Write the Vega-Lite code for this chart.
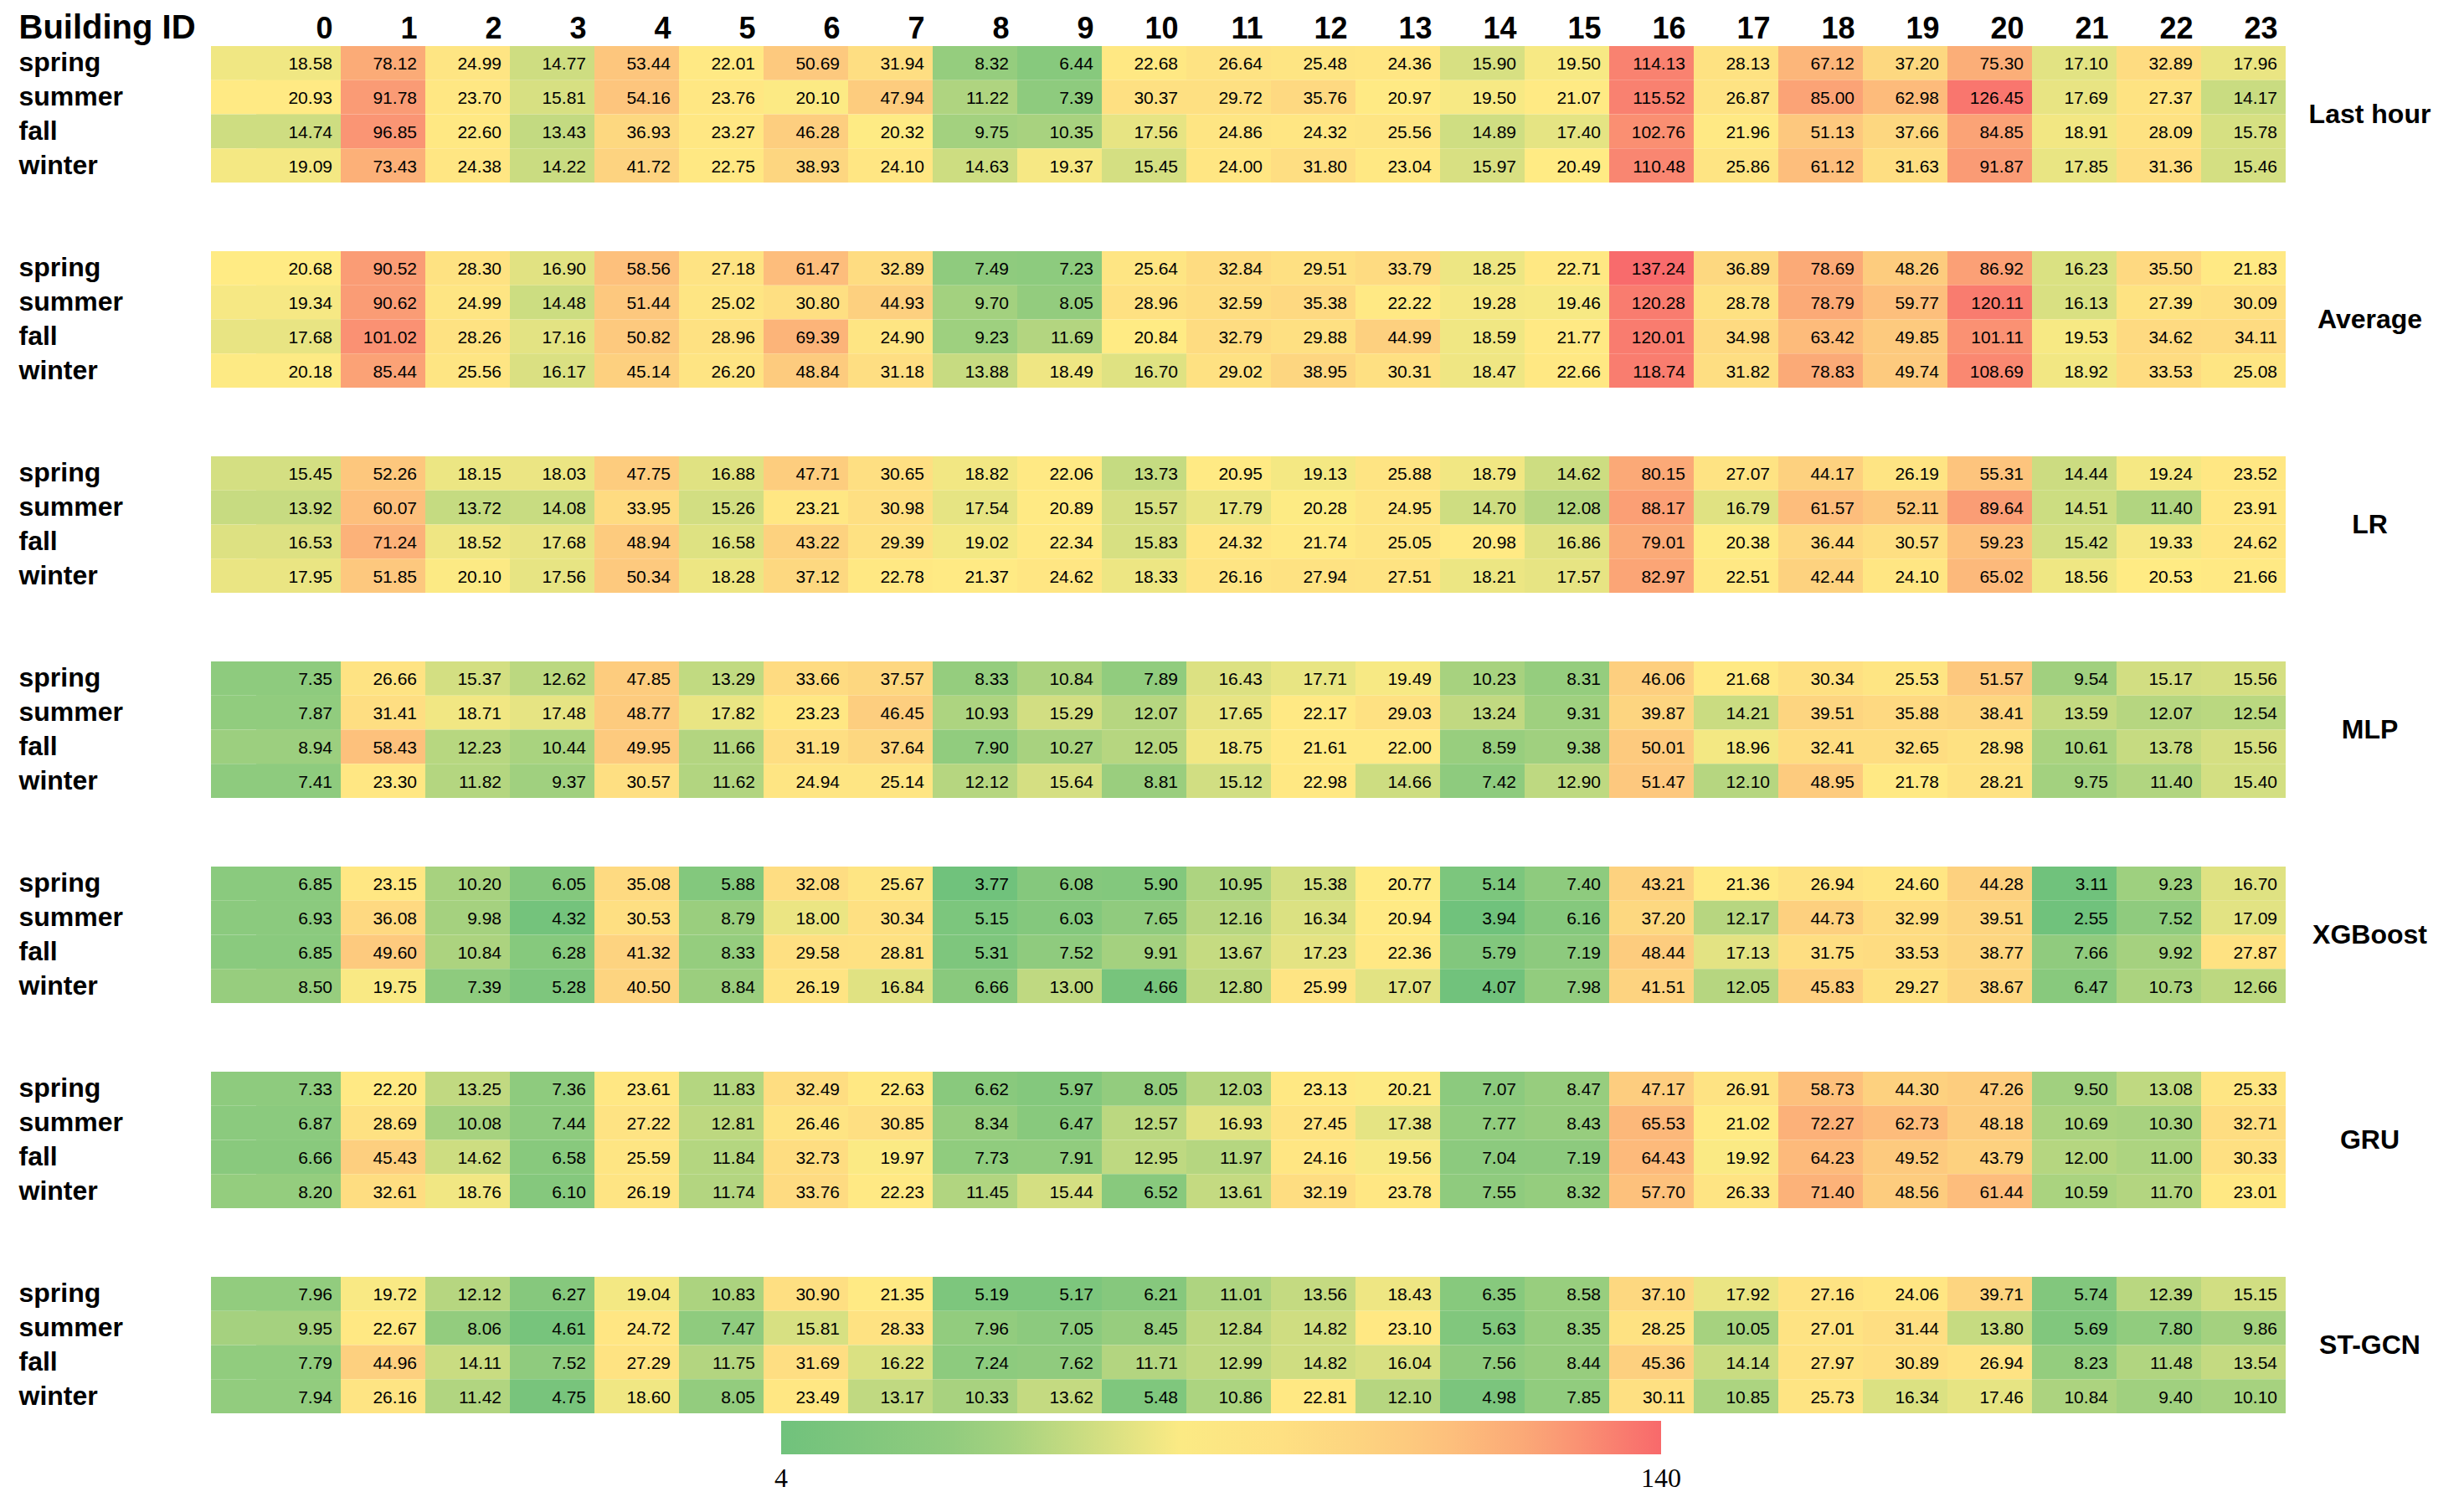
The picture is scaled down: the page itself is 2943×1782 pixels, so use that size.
{
"$schema": "https://vega.github.io/schema/vega-lite/v6.json",
"background": "white",
"padding": {"left": 22, "top": 13, "right": 5, "bottom": 0},
"data": {"values": [
{"m":"Last hour","s":"spring","b":0,"v":18.58},{"m":"Last hour","s":"spring","b":1,"v":78.12},{"m":"Last hour","s":"spring","b":2,"v":24.99},{"m":"Last hour","s":"spring","b":3,"v":14.77},{"m":"Last hour","s":"spring","b":4,"v":53.44},{"m":"Last hour","s":"spring","b":5,"v":22.01},{"m":"Last hour","s":"spring","b":6,"v":50.69},{"m":"Last hour","s":"spring","b":7,"v":31.94},{"m":"Last hour","s":"spring","b":8,"v":8.32},{"m":"Last hour","s":"spring","b":9,"v":6.44},{"m":"Last hour","s":"spring","b":10,"v":22.68},{"m":"Last hour","s":"spring","b":11,"v":26.64},{"m":"Last hour","s":"spring","b":12,"v":25.48},{"m":"Last hour","s":"spring","b":13,"v":24.36},{"m":"Last hour","s":"spring","b":14,"v":15.90},{"m":"Last hour","s":"spring","b":15,"v":19.50},{"m":"Last hour","s":"spring","b":16,"v":114.13},{"m":"Last hour","s":"spring","b":17,"v":28.13},{"m":"Last hour","s":"spring","b":18,"v":67.12},{"m":"Last hour","s":"spring","b":19,"v":37.20},{"m":"Last hour","s":"spring","b":20,"v":75.30},{"m":"Last hour","s":"spring","b":21,"v":17.10},{"m":"Last hour","s":"spring","b":22,"v":32.89},{"m":"Last hour","s":"spring","b":23,"v":17.96},
{"m":"Last hour","s":"summer","b":0,"v":20.93},{"m":"Last hour","s":"summer","b":1,"v":91.78},{"m":"Last hour","s":"summer","b":2,"v":23.70},{"m":"Last hour","s":"summer","b":3,"v":15.81},{"m":"Last hour","s":"summer","b":4,"v":54.16},{"m":"Last hour","s":"summer","b":5,"v":23.76},{"m":"Last hour","s":"summer","b":6,"v":20.10},{"m":"Last hour","s":"summer","b":7,"v":47.94},{"m":"Last hour","s":"summer","b":8,"v":11.22},{"m":"Last hour","s":"summer","b":9,"v":7.39},{"m":"Last hour","s":"summer","b":10,"v":30.37},{"m":"Last hour","s":"summer","b":11,"v":29.72},{"m":"Last hour","s":"summer","b":12,"v":35.76},{"m":"Last hour","s":"summer","b":13,"v":20.97},{"m":"Last hour","s":"summer","b":14,"v":19.50},{"m":"Last hour","s":"summer","b":15,"v":21.07},{"m":"Last hour","s":"summer","b":16,"v":115.52},{"m":"Last hour","s":"summer","b":17,"v":26.87},{"m":"Last hour","s":"summer","b":18,"v":85.00},{"m":"Last hour","s":"summer","b":19,"v":62.98},{"m":"Last hour","s":"summer","b":20,"v":126.45},{"m":"Last hour","s":"summer","b":21,"v":17.69},{"m":"Last hour","s":"summer","b":22,"v":27.37},{"m":"Last hour","s":"summer","b":23,"v":14.17},
{"m":"Last hour","s":"fall","b":0,"v":14.74},{"m":"Last hour","s":"fall","b":1,"v":96.85},{"m":"Last hour","s":"fall","b":2,"v":22.60},{"m":"Last hour","s":"fall","b":3,"v":13.43},{"m":"Last hour","s":"fall","b":4,"v":36.93},{"m":"Last hour","s":"fall","b":5,"v":23.27},{"m":"Last hour","s":"fall","b":6,"v":46.28},{"m":"Last hour","s":"fall","b":7,"v":20.32},{"m":"Last hour","s":"fall","b":8,"v":9.75},{"m":"Last hour","s":"fall","b":9,"v":10.35},{"m":"Last hour","s":"fall","b":10,"v":17.56},{"m":"Last hour","s":"fall","b":11,"v":24.86},{"m":"Last hour","s":"fall","b":12,"v":24.32},{"m":"Last hour","s":"fall","b":13,"v":25.56},{"m":"Last hour","s":"fall","b":14,"v":14.89},{"m":"Last hour","s":"fall","b":15,"v":17.40},{"m":"Last hour","s":"fall","b":16,"v":102.76},{"m":"Last hour","s":"fall","b":17,"v":21.96},{"m":"Last hour","s":"fall","b":18,"v":51.13},{"m":"Last hour","s":"fall","b":19,"v":37.66},{"m":"Last hour","s":"fall","b":20,"v":84.85},{"m":"Last hour","s":"fall","b":21,"v":18.91},{"m":"Last hour","s":"fall","b":22,"v":28.09},{"m":"Last hour","s":"fall","b":23,"v":15.78},
{"m":"Last hour","s":"winter","b":0,"v":19.09},{"m":"Last hour","s":"winter","b":1,"v":73.43},{"m":"Last hour","s":"winter","b":2,"v":24.38},{"m":"Last hour","s":"winter","b":3,"v":14.22},{"m":"Last hour","s":"winter","b":4,"v":41.72},{"m":"Last hour","s":"winter","b":5,"v":22.75},{"m":"Last hour","s":"winter","b":6,"v":38.93},{"m":"Last hour","s":"winter","b":7,"v":24.10},{"m":"Last hour","s":"winter","b":8,"v":14.63},{"m":"Last hour","s":"winter","b":9,"v":19.37},{"m":"Last hour","s":"winter","b":10,"v":15.45},{"m":"Last hour","s":"winter","b":11,"v":24.00},{"m":"Last hour","s":"winter","b":12,"v":31.80},{"m":"Last hour","s":"winter","b":13,"v":23.04},{"m":"Last hour","s":"winter","b":14,"v":15.97},{"m":"Last hour","s":"winter","b":15,"v":20.49},{"m":"Last hour","s":"winter","b":16,"v":110.48},{"m":"Last hour","s":"winter","b":17,"v":25.86},{"m":"Last hour","s":"winter","b":18,"v":61.12},{"m":"Last hour","s":"winter","b":19,"v":31.63},{"m":"Last hour","s":"winter","b":20,"v":91.87},{"m":"Last hour","s":"winter","b":21,"v":17.85},{"m":"Last hour","s":"winter","b":22,"v":31.36},{"m":"Last hour","s":"winter","b":23,"v":15.46},
{"m":"Average","s":"spring","b":0,"v":20.68},{"m":"Average","s":"spring","b":1,"v":90.52},{"m":"Average","s":"spring","b":2,"v":28.30},{"m":"Average","s":"spring","b":3,"v":16.90},{"m":"Average","s":"spring","b":4,"v":58.56},{"m":"Average","s":"spring","b":5,"v":27.18},{"m":"Average","s":"spring","b":6,"v":61.47},{"m":"Average","s":"spring","b":7,"v":32.89},{"m":"Average","s":"spring","b":8,"v":7.49},{"m":"Average","s":"spring","b":9,"v":7.23},{"m":"Average","s":"spring","b":10,"v":25.64},{"m":"Average","s":"spring","b":11,"v":32.84},{"m":"Average","s":"spring","b":12,"v":29.51},{"m":"Average","s":"spring","b":13,"v":33.79},{"m":"Average","s":"spring","b":14,"v":18.25},{"m":"Average","s":"spring","b":15,"v":22.71},{"m":"Average","s":"spring","b":16,"v":137.24},{"m":"Average","s":"spring","b":17,"v":36.89},{"m":"Average","s":"spring","b":18,"v":78.69},{"m":"Average","s":"spring","b":19,"v":48.26},{"m":"Average","s":"spring","b":20,"v":86.92},{"m":"Average","s":"spring","b":21,"v":16.23},{"m":"Average","s":"spring","b":22,"v":35.50},{"m":"Average","s":"spring","b":23,"v":21.83},
{"m":"Average","s":"summer","b":0,"v":19.34},{"m":"Average","s":"summer","b":1,"v":90.62},{"m":"Average","s":"summer","b":2,"v":24.99},{"m":"Average","s":"summer","b":3,"v":14.48},{"m":"Average","s":"summer","b":4,"v":51.44},{"m":"Average","s":"summer","b":5,"v":25.02},{"m":"Average","s":"summer","b":6,"v":30.80},{"m":"Average","s":"summer","b":7,"v":44.93},{"m":"Average","s":"summer","b":8,"v":9.70},{"m":"Average","s":"summer","b":9,"v":8.05},{"m":"Average","s":"summer","b":10,"v":28.96},{"m":"Average","s":"summer","b":11,"v":32.59},{"m":"Average","s":"summer","b":12,"v":35.38},{"m":"Average","s":"summer","b":13,"v":22.22},{"m":"Average","s":"summer","b":14,"v":19.28},{"m":"Average","s":"summer","b":15,"v":19.46},{"m":"Average","s":"summer","b":16,"v":120.28},{"m":"Average","s":"summer","b":17,"v":28.78},{"m":"Average","s":"summer","b":18,"v":78.79},{"m":"Average","s":"summer","b":19,"v":59.77},{"m":"Average","s":"summer","b":20,"v":120.11},{"m":"Average","s":"summer","b":21,"v":16.13},{"m":"Average","s":"summer","b":22,"v":27.39},{"m":"Average","s":"summer","b":23,"v":30.09},
{"m":"Average","s":"fall","b":0,"v":17.68},{"m":"Average","s":"fall","b":1,"v":101.02},{"m":"Average","s":"fall","b":2,"v":28.26},{"m":"Average","s":"fall","b":3,"v":17.16},{"m":"Average","s":"fall","b":4,"v":50.82},{"m":"Average","s":"fall","b":5,"v":28.96},{"m":"Average","s":"fall","b":6,"v":69.39},{"m":"Average","s":"fall","b":7,"v":24.90},{"m":"Average","s":"fall","b":8,"v":9.23},{"m":"Average","s":"fall","b":9,"v":11.69},{"m":"Average","s":"fall","b":10,"v":20.84},{"m":"Average","s":"fall","b":11,"v":32.79},{"m":"Average","s":"fall","b":12,"v":29.88},{"m":"Average","s":"fall","b":13,"v":44.99},{"m":"Average","s":"fall","b":14,"v":18.59},{"m":"Average","s":"fall","b":15,"v":21.77},{"m":"Average","s":"fall","b":16,"v":120.01},{"m":"Average","s":"fall","b":17,"v":34.98},{"m":"Average","s":"fall","b":18,"v":63.42},{"m":"Average","s":"fall","b":19,"v":49.85},{"m":"Average","s":"fall","b":20,"v":101.11},{"m":"Average","s":"fall","b":21,"v":19.53},{"m":"Average","s":"fall","b":22,"v":34.62},{"m":"Average","s":"fall","b":23,"v":34.11},
{"m":"Average","s":"winter","b":0,"v":20.18},{"m":"Average","s":"winter","b":1,"v":85.44},{"m":"Average","s":"winter","b":2,"v":25.56},{"m":"Average","s":"winter","b":3,"v":16.17},{"m":"Average","s":"winter","b":4,"v":45.14},{"m":"Average","s":"winter","b":5,"v":26.20},{"m":"Average","s":"winter","b":6,"v":48.84},{"m":"Average","s":"winter","b":7,"v":31.18},{"m":"Average","s":"winter","b":8,"v":13.88},{"m":"Average","s":"winter","b":9,"v":18.49},{"m":"Average","s":"winter","b":10,"v":16.70},{"m":"Average","s":"winter","b":11,"v":29.02},{"m":"Average","s":"winter","b":12,"v":38.95},{"m":"Average","s":"winter","b":13,"v":30.31},{"m":"Average","s":"winter","b":14,"v":18.47},{"m":"Average","s":"winter","b":15,"v":22.66},{"m":"Average","s":"winter","b":16,"v":118.74},{"m":"Average","s":"winter","b":17,"v":31.82},{"m":"Average","s":"winter","b":18,"v":78.83},{"m":"Average","s":"winter","b":19,"v":49.74},{"m":"Average","s":"winter","b":20,"v":108.69},{"m":"Average","s":"winter","b":21,"v":18.92},{"m":"Average","s":"winter","b":22,"v":33.53},{"m":"Average","s":"winter","b":23,"v":25.08},
{"m":"LR","s":"spring","b":0,"v":15.45},{"m":"LR","s":"spring","b":1,"v":52.26},{"m":"LR","s":"spring","b":2,"v":18.15},{"m":"LR","s":"spring","b":3,"v":18.03},{"m":"LR","s":"spring","b":4,"v":47.75},{"m":"LR","s":"spring","b":5,"v":16.88},{"m":"LR","s":"spring","b":6,"v":47.71},{"m":"LR","s":"spring","b":7,"v":30.65},{"m":"LR","s":"spring","b":8,"v":18.82},{"m":"LR","s":"spring","b":9,"v":22.06},{"m":"LR","s":"spring","b":10,"v":13.73},{"m":"LR","s":"spring","b":11,"v":20.95},{"m":"LR","s":"spring","b":12,"v":19.13},{"m":"LR","s":"spring","b":13,"v":25.88},{"m":"LR","s":"spring","b":14,"v":18.79},{"m":"LR","s":"spring","b":15,"v":14.62},{"m":"LR","s":"spring","b":16,"v":80.15},{"m":"LR","s":"spring","b":17,"v":27.07},{"m":"LR","s":"spring","b":18,"v":44.17},{"m":"LR","s":"spring","b":19,"v":26.19},{"m":"LR","s":"spring","b":20,"v":55.31},{"m":"LR","s":"spring","b":21,"v":14.44},{"m":"LR","s":"spring","b":22,"v":19.24},{"m":"LR","s":"spring","b":23,"v":23.52},
{"m":"LR","s":"summer","b":0,"v":13.92},{"m":"LR","s":"summer","b":1,"v":60.07},{"m":"LR","s":"summer","b":2,"v":13.72},{"m":"LR","s":"summer","b":3,"v":14.08},{"m":"LR","s":"summer","b":4,"v":33.95},{"m":"LR","s":"summer","b":5,"v":15.26},{"m":"LR","s":"summer","b":6,"v":23.21},{"m":"LR","s":"summer","b":7,"v":30.98},{"m":"LR","s":"summer","b":8,"v":17.54},{"m":"LR","s":"summer","b":9,"v":20.89},{"m":"LR","s":"summer","b":10,"v":15.57},{"m":"LR","s":"summer","b":11,"v":17.79},{"m":"LR","s":"summer","b":12,"v":20.28},{"m":"LR","s":"summer","b":13,"v":24.95},{"m":"LR","s":"summer","b":14,"v":14.70},{"m":"LR","s":"summer","b":15,"v":12.08},{"m":"LR","s":"summer","b":16,"v":88.17},{"m":"LR","s":"summer","b":17,"v":16.79},{"m":"LR","s":"summer","b":18,"v":61.57},{"m":"LR","s":"summer","b":19,"v":52.11},{"m":"LR","s":"summer","b":20,"v":89.64},{"m":"LR","s":"summer","b":21,"v":14.51},{"m":"LR","s":"summer","b":22,"v":11.40},{"m":"LR","s":"summer","b":23,"v":23.91},
{"m":"LR","s":"fall","b":0,"v":16.53},{"m":"LR","s":"fall","b":1,"v":71.24},{"m":"LR","s":"fall","b":2,"v":18.52},{"m":"LR","s":"fall","b":3,"v":17.68},{"m":"LR","s":"fall","b":4,"v":48.94},{"m":"LR","s":"fall","b":5,"v":16.58},{"m":"LR","s":"fall","b":6,"v":43.22},{"m":"LR","s":"fall","b":7,"v":29.39},{"m":"LR","s":"fall","b":8,"v":19.02},{"m":"LR","s":"fall","b":9,"v":22.34},{"m":"LR","s":"fall","b":10,"v":15.83},{"m":"LR","s":"fall","b":11,"v":24.32},{"m":"LR","s":"fall","b":12,"v":21.74},{"m":"LR","s":"fall","b":13,"v":25.05},{"m":"LR","s":"fall","b":14,"v":20.98},{"m":"LR","s":"fall","b":15,"v":16.86},{"m":"LR","s":"fall","b":16,"v":79.01},{"m":"LR","s":"fall","b":17,"v":20.38},{"m":"LR","s":"fall","b":18,"v":36.44},{"m":"LR","s":"fall","b":19,"v":30.57},{"m":"LR","s":"fall","b":20,"v":59.23},{"m":"LR","s":"fall","b":21,"v":15.42},{"m":"LR","s":"fall","b":22,"v":19.33},{"m":"LR","s":"fall","b":23,"v":24.62},
{"m":"LR","s":"winter","b":0,"v":17.95},{"m":"LR","s":"winter","b":1,"v":51.85},{"m":"LR","s":"winter","b":2,"v":20.10},{"m":"LR","s":"winter","b":3,"v":17.56},{"m":"LR","s":"winter","b":4,"v":50.34},{"m":"LR","s":"winter","b":5,"v":18.28},{"m":"LR","s":"winter","b":6,"v":37.12},{"m":"LR","s":"winter","b":7,"v":22.78},{"m":"LR","s":"winter","b":8,"v":21.37},{"m":"LR","s":"winter","b":9,"v":24.62},{"m":"LR","s":"winter","b":10,"v":18.33},{"m":"LR","s":"winter","b":11,"v":26.16},{"m":"LR","s":"winter","b":12,"v":27.94},{"m":"LR","s":"winter","b":13,"v":27.51},{"m":"LR","s":"winter","b":14,"v":18.21},{"m":"LR","s":"winter","b":15,"v":17.57},{"m":"LR","s":"winter","b":16,"v":82.97},{"m":"LR","s":"winter","b":17,"v":22.51},{"m":"LR","s":"winter","b":18,"v":42.44},{"m":"LR","s":"winter","b":19,"v":24.10},{"m":"LR","s":"winter","b":20,"v":65.02},{"m":"LR","s":"winter","b":21,"v":18.56},{"m":"LR","s":"winter","b":22,"v":20.53},{"m":"LR","s":"winter","b":23,"v":21.66},
{"m":"MLP","s":"spring","b":0,"v":7.35},{"m":"MLP","s":"spring","b":1,"v":26.66},{"m":"MLP","s":"spring","b":2,"v":15.37},{"m":"MLP","s":"spring","b":3,"v":12.62},{"m":"MLP","s":"spring","b":4,"v":47.85},{"m":"MLP","s":"spring","b":5,"v":13.29},{"m":"MLP","s":"spring","b":6,"v":33.66},{"m":"MLP","s":"spring","b":7,"v":37.57},{"m":"MLP","s":"spring","b":8,"v":8.33},{"m":"MLP","s":"spring","b":9,"v":10.84},{"m":"MLP","s":"spring","b":10,"v":7.89},{"m":"MLP","s":"spring","b":11,"v":16.43},{"m":"MLP","s":"spring","b":12,"v":17.71},{"m":"MLP","s":"spring","b":13,"v":19.49},{"m":"MLP","s":"spring","b":14,"v":10.23},{"m":"MLP","s":"spring","b":15,"v":8.31},{"m":"MLP","s":"spring","b":16,"v":46.06},{"m":"MLP","s":"spring","b":17,"v":21.68},{"m":"MLP","s":"spring","b":18,"v":30.34},{"m":"MLP","s":"spring","b":19,"v":25.53},{"m":"MLP","s":"spring","b":20,"v":51.57},{"m":"MLP","s":"spring","b":21,"v":9.54},{"m":"MLP","s":"spring","b":22,"v":15.17},{"m":"MLP","s":"spring","b":23,"v":15.56},
{"m":"MLP","s":"summer","b":0,"v":7.87},{"m":"MLP","s":"summer","b":1,"v":31.41},{"m":"MLP","s":"summer","b":2,"v":18.71},{"m":"MLP","s":"summer","b":3,"v":17.48},{"m":"MLP","s":"summer","b":4,"v":48.77},{"m":"MLP","s":"summer","b":5,"v":17.82},{"m":"MLP","s":"summer","b":6,"v":23.23},{"m":"MLP","s":"summer","b":7,"v":46.45},{"m":"MLP","s":"summer","b":8,"v":10.93},{"m":"MLP","s":"summer","b":9,"v":15.29},{"m":"MLP","s":"summer","b":10,"v":12.07},{"m":"MLP","s":"summer","b":11,"v":17.65},{"m":"MLP","s":"summer","b":12,"v":22.17},{"m":"MLP","s":"summer","b":13,"v":29.03},{"m":"MLP","s":"summer","b":14,"v":13.24},{"m":"MLP","s":"summer","b":15,"v":9.31},{"m":"MLP","s":"summer","b":16,"v":39.87},{"m":"MLP","s":"summer","b":17,"v":14.21},{"m":"MLP","s":"summer","b":18,"v":39.51},{"m":"MLP","s":"summer","b":19,"v":35.88},{"m":"MLP","s":"summer","b":20,"v":38.41},{"m":"MLP","s":"summer","b":21,"v":13.59},{"m":"MLP","s":"summer","b":22,"v":12.07},{"m":"MLP","s":"summer","b":23,"v":12.54},
{"m":"MLP","s":"fall","b":0,"v":8.94},{"m":"MLP","s":"fall","b":1,"v":58.43},{"m":"MLP","s":"fall","b":2,"v":12.23},{"m":"MLP","s":"fall","b":3,"v":10.44},{"m":"MLP","s":"fall","b":4,"v":49.95},{"m":"MLP","s":"fall","b":5,"v":11.66},{"m":"MLP","s":"fall","b":6,"v":31.19},{"m":"MLP","s":"fall","b":7,"v":37.64},{"m":"MLP","s":"fall","b":8,"v":7.90},{"m":"MLP","s":"fall","b":9,"v":10.27},{"m":"MLP","s":"fall","b":10,"v":12.05},{"m":"MLP","s":"fall","b":11,"v":18.75},{"m":"MLP","s":"fall","b":12,"v":21.61},{"m":"MLP","s":"fall","b":13,"v":22.00},{"m":"MLP","s":"fall","b":14,"v":8.59},{"m":"MLP","s":"fall","b":15,"v":9.38},{"m":"MLP","s":"fall","b":16,"v":50.01},{"m":"MLP","s":"fall","b":17,"v":18.96},{"m":"MLP","s":"fall","b":18,"v":32.41},{"m":"MLP","s":"fall","b":19,"v":32.65},{"m":"MLP","s":"fall","b":20,"v":28.98},{"m":"MLP","s":"fall","b":21,"v":10.61},{"m":"MLP","s":"fall","b":22,"v":13.78},{"m":"MLP","s":"fall","b":23,"v":15.56},
{"m":"MLP","s":"winter","b":0,"v":7.41},{"m":"MLP","s":"winter","b":1,"v":23.30},{"m":"MLP","s":"winter","b":2,"v":11.82},{"m":"MLP","s":"winter","b":3,"v":9.37},{"m":"MLP","s":"winter","b":4,"v":30.57},{"m":"MLP","s":"winter","b":5,"v":11.62},{"m":"MLP","s":"winter","b":6,"v":24.94},{"m":"MLP","s":"winter","b":7,"v":25.14},{"m":"MLP","s":"winter","b":8,"v":12.12},{"m":"MLP","s":"winter","b":9,"v":15.64},{"m":"MLP","s":"winter","b":10,"v":8.81},{"m":"MLP","s":"winter","b":11,"v":15.12},{"m":"MLP","s":"winter","b":12,"v":22.98},{"m":"MLP","s":"winter","b":13,"v":14.66},{"m":"MLP","s":"winter","b":14,"v":7.42},{"m":"MLP","s":"winter","b":15,"v":12.90},{"m":"MLP","s":"winter","b":16,"v":51.47},{"m":"MLP","s":"winter","b":17,"v":12.10},{"m":"MLP","s":"winter","b":18,"v":48.95},{"m":"MLP","s":"winter","b":19,"v":21.78},{"m":"MLP","s":"winter","b":20,"v":28.21},{"m":"MLP","s":"winter","b":21,"v":9.75},{"m":"MLP","s":"winter","b":22,"v":11.40},{"m":"MLP","s":"winter","b":23,"v":15.40},
{"m":"XGBoost","s":"spring","b":0,"v":6.85},{"m":"XGBoost","s":"spring","b":1,"v":23.15},{"m":"XGBoost","s":"spring","b":2,"v":10.20},{"m":"XGBoost","s":"spring","b":3,"v":6.05},{"m":"XGBoost","s":"spring","b":4,"v":35.08},{"m":"XGBoost","s":"spring","b":5,"v":5.88},{"m":"XGBoost","s":"spring","b":6,"v":32.08},{"m":"XGBoost","s":"spring","b":7,"v":25.67},{"m":"XGBoost","s":"spring","b":8,"v":3.77},{"m":"XGBoost","s":"spring","b":9,"v":6.08},{"m":"XGBoost","s":"spring","b":10,"v":5.90},{"m":"XGBoost","s":"spring","b":11,"v":10.95},{"m":"XGBoost","s":"spring","b":12,"v":15.38},{"m":"XGBoost","s":"spring","b":13,"v":20.77},{"m":"XGBoost","s":"spring","b":14,"v":5.14},{"m":"XGBoost","s":"spring","b":15,"v":7.40},{"m":"XGBoost","s":"spring","b":16,"v":43.21},{"m":"XGBoost","s":"spring","b":17,"v":21.36},{"m":"XGBoost","s":"spring","b":18,"v":26.94},{"m":"XGBoost","s":"spring","b":19,"v":24.60},{"m":"XGBoost","s":"spring","b":20,"v":44.28},{"m":"XGBoost","s":"spring","b":21,"v":3.11},{"m":"XGBoost","s":"spring","b":22,"v":9.23},{"m":"XGBoost","s":"spring","b":23,"v":16.70},
{"m":"XGBoost","s":"summer","b":0,"v":6.93},{"m":"XGBoost","s":"summer","b":1,"v":36.08},{"m":"XGBoost","s":"summer","b":2,"v":9.98},{"m":"XGBoost","s":"summer","b":3,"v":4.32},{"m":"XGBoost","s":"summer","b":4,"v":30.53},{"m":"XGBoost","s":"summer","b":5,"v":8.79},{"m":"XGBoost","s":"summer","b":6,"v":18.00},{"m":"XGBoost","s":"summer","b":7,"v":30.34},{"m":"XGBoost","s":"summer","b":8,"v":5.15},{"m":"XGBoost","s":"summer","b":9,"v":6.03},{"m":"XGBoost","s":"summer","b":10,"v":7.65},{"m":"XGBoost","s":"summer","b":11,"v":12.16},{"m":"XGBoost","s":"summer","b":12,"v":16.34},{"m":"XGBoost","s":"summer","b":13,"v":20.94},{"m":"XGBoost","s":"summer","b":14,"v":3.94},{"m":"XGBoost","s":"summer","b":15,"v":6.16},{"m":"XGBoost","s":"summer","b":16,"v":37.20},{"m":"XGBoost","s":"summer","b":17,"v":12.17},{"m":"XGBoost","s":"summer","b":18,"v":44.73},{"m":"XGBoost","s":"summer","b":19,"v":32.99},{"m":"XGBoost","s":"summer","b":20,"v":39.51},{"m":"XGBoost","s":"summer","b":21,"v":2.55},{"m":"XGBoost","s":"summer","b":22,"v":7.52},{"m":"XGBoost","s":"summer","b":23,"v":17.09},
{"m":"XGBoost","s":"fall","b":0,"v":6.85},{"m":"XGBoost","s":"fall","b":1,"v":49.60},{"m":"XGBoost","s":"fall","b":2,"v":10.84},{"m":"XGBoost","s":"fall","b":3,"v":6.28},{"m":"XGBoost","s":"fall","b":4,"v":41.32},{"m":"XGBoost","s":"fall","b":5,"v":8.33},{"m":"XGBoost","s":"fall","b":6,"v":29.58},{"m":"XGBoost","s":"fall","b":7,"v":28.81},{"m":"XGBoost","s":"fall","b":8,"v":5.31},{"m":"XGBoost","s":"fall","b":9,"v":7.52},{"m":"XGBoost","s":"fall","b":10,"v":9.91},{"m":"XGBoost","s":"fall","b":11,"v":13.67},{"m":"XGBoost","s":"fall","b":12,"v":17.23},{"m":"XGBoost","s":"fall","b":13,"v":22.36},{"m":"XGBoost","s":"fall","b":14,"v":5.79},{"m":"XGBoost","s":"fall","b":15,"v":7.19},{"m":"XGBoost","s":"fall","b":16,"v":48.44},{"m":"XGBoost","s":"fall","b":17,"v":17.13},{"m":"XGBoost","s":"fall","b":18,"v":31.75},{"m":"XGBoost","s":"fall","b":19,"v":33.53},{"m":"XGBoost","s":"fall","b":20,"v":38.77},{"m":"XGBoost","s":"fall","b":21,"v":7.66},{"m":"XGBoost","s":"fall","b":22,"v":9.92},{"m":"XGBoost","s":"fall","b":23,"v":27.87},
{"m":"XGBoost","s":"winter","b":0,"v":8.50},{"m":"XGBoost","s":"winter","b":1,"v":19.75},{"m":"XGBoost","s":"winter","b":2,"v":7.39},{"m":"XGBoost","s":"winter","b":3,"v":5.28},{"m":"XGBoost","s":"winter","b":4,"v":40.50},{"m":"XGBoost","s":"winter","b":5,"v":8.84},{"m":"XGBoost","s":"winter","b":6,"v":26.19},{"m":"XGBoost","s":"winter","b":7,"v":16.84},{"m":"XGBoost","s":"winter","b":8,"v":6.66},{"m":"XGBoost","s":"winter","b":9,"v":13.00},{"m":"XGBoost","s":"winter","b":10,"v":4.66},{"m":"XGBoost","s":"winter","b":11,"v":12.80},{"m":"XGBoost","s":"winter","b":12,"v":25.99},{"m":"XGBoost","s":"winter","b":13,"v":17.07},{"m":"XGBoost","s":"winter","b":14,"v":4.07},{"m":"XGBoost","s":"winter","b":15,"v":7.98},{"m":"XGBoost","s":"winter","b":16,"v":41.51},{"m":"XGBoost","s":"winter","b":17,"v":12.05},{"m":"XGBoost","s":"winter","b":18,"v":45.83},{"m":"XGBoost","s":"winter","b":19,"v":29.27},{"m":"XGBoost","s":"winter","b":20,"v":38.67},{"m":"XGBoost","s":"winter","b":21,"v":6.47},{"m":"XGBoost","s":"winter","b":22,"v":10.73},{"m":"XGBoost","s":"winter","b":23,"v":12.66},
{"m":"GRU","s":"spring","b":0,"v":7.33},{"m":"GRU","s":"spring","b":1,"v":22.20},{"m":"GRU","s":"spring","b":2,"v":13.25},{"m":"GRU","s":"spring","b":3,"v":7.36},{"m":"GRU","s":"spring","b":4,"v":23.61},{"m":"GRU","s":"spring","b":5,"v":11.83},{"m":"GRU","s":"spring","b":6,"v":32.49},{"m":"GRU","s":"spring","b":7,"v":22.63},{"m":"GRU","s":"spring","b":8,"v":6.62},{"m":"GRU","s":"spring","b":9,"v":5.97},{"m":"GRU","s":"spring","b":10,"v":8.05},{"m":"GRU","s":"spring","b":11,"v":12.03},{"m":"GRU","s":"spring","b":12,"v":23.13},{"m":"GRU","s":"spring","b":13,"v":20.21},{"m":"GRU","s":"spring","b":14,"v":7.07},{"m":"GRU","s":"spring","b":15,"v":8.47},{"m":"GRU","s":"spring","b":16,"v":47.17},{"m":"GRU","s":"spring","b":17,"v":26.91},{"m":"GRU","s":"spring","b":18,"v":58.73},{"m":"GRU","s":"spring","b":19,"v":44.30},{"m":"GRU","s":"spring","b":20,"v":47.26},{"m":"GRU","s":"spring","b":21,"v":9.50},{"m":"GRU","s":"spring","b":22,"v":13.08},{"m":"GRU","s":"spring","b":23,"v":25.33},
{"m":"GRU","s":"summer","b":0,"v":6.87},{"m":"GRU","s":"summer","b":1,"v":28.69},{"m":"GRU","s":"summer","b":2,"v":10.08},{"m":"GRU","s":"summer","b":3,"v":7.44},{"m":"GRU","s":"summer","b":4,"v":27.22},{"m":"GRU","s":"summer","b":5,"v":12.81},{"m":"GRU","s":"summer","b":6,"v":26.46},{"m":"GRU","s":"summer","b":7,"v":30.85},{"m":"GRU","s":"summer","b":8,"v":8.34},{"m":"GRU","s":"summer","b":9,"v":6.47},{"m":"GRU","s":"summer","b":10,"v":12.57},{"m":"GRU","s":"summer","b":11,"v":16.93},{"m":"GRU","s":"summer","b":12,"v":27.45},{"m":"GRU","s":"summer","b":13,"v":17.38},{"m":"GRU","s":"summer","b":14,"v":7.77},{"m":"GRU","s":"summer","b":15,"v":8.43},{"m":"GRU","s":"summer","b":16,"v":65.53},{"m":"GRU","s":"summer","b":17,"v":21.02},{"m":"GRU","s":"summer","b":18,"v":72.27},{"m":"GRU","s":"summer","b":19,"v":62.73},{"m":"GRU","s":"summer","b":20,"v":48.18},{"m":"GRU","s":"summer","b":21,"v":10.69},{"m":"GRU","s":"summer","b":22,"v":10.30},{"m":"GRU","s":"summer","b":23,"v":32.71},
{"m":"GRU","s":"fall","b":0,"v":6.66},{"m":"GRU","s":"fall","b":1,"v":45.43},{"m":"GRU","s":"fall","b":2,"v":14.62},{"m":"GRU","s":"fall","b":3,"v":6.58},{"m":"GRU","s":"fall","b":4,"v":25.59},{"m":"GRU","s":"fall","b":5,"v":11.84},{"m":"GRU","s":"fall","b":6,"v":32.73},{"m":"GRU","s":"fall","b":7,"v":19.97},{"m":"GRU","s":"fall","b":8,"v":7.73},{"m":"GRU","s":"fall","b":9,"v":7.91},{"m":"GRU","s":"fall","b":10,"v":12.95},{"m":"GRU","s":"fall","b":11,"v":11.97},{"m":"GRU","s":"fall","b":12,"v":24.16},{"m":"GRU","s":"fall","b":13,"v":19.56},{"m":"GRU","s":"fall","b":14,"v":7.04},{"m":"GRU","s":"fall","b":15,"v":7.19},{"m":"GRU","s":"fall","b":16,"v":64.43},{"m":"GRU","s":"fall","b":17,"v":19.92},{"m":"GRU","s":"fall","b":18,"v":64.23},{"m":"GRU","s":"fall","b":19,"v":49.52},{"m":"GRU","s":"fall","b":20,"v":43.79},{"m":"GRU","s":"fall","b":21,"v":12.00},{"m":"GRU","s":"fall","b":22,"v":11.00},{"m":"GRU","s":"fall","b":23,"v":30.33},
{"m":"GRU","s":"winter","b":0,"v":8.20},{"m":"GRU","s":"winter","b":1,"v":32.61},{"m":"GRU","s":"winter","b":2,"v":18.76},{"m":"GRU","s":"winter","b":3,"v":6.10},{"m":"GRU","s":"winter","b":4,"v":26.19},{"m":"GRU","s":"winter","b":5,"v":11.74},{"m":"GRU","s":"winter","b":6,"v":33.76},{"m":"GRU","s":"winter","b":7,"v":22.23},{"m":"GRU","s":"winter","b":8,"v":11.45},{"m":"GRU","s":"winter","b":9,"v":15.44},{"m":"GRU","s":"winter","b":10,"v":6.52},{"m":"GRU","s":"winter","b":11,"v":13.61},{"m":"GRU","s":"winter","b":12,"v":32.19},{"m":"GRU","s":"winter","b":13,"v":23.78},{"m":"GRU","s":"winter","b":14,"v":7.55},{"m":"GRU","s":"winter","b":15,"v":8.32},{"m":"GRU","s":"winter","b":16,"v":57.70},{"m":"GRU","s":"winter","b":17,"v":26.33},{"m":"GRU","s":"winter","b":18,"v":71.40},{"m":"GRU","s":"winter","b":19,"v":48.56},{"m":"GRU","s":"winter","b":20,"v":61.44},{"m":"GRU","s":"winter","b":21,"v":10.59},{"m":"GRU","s":"winter","b":22,"v":11.70},{"m":"GRU","s":"winter","b":23,"v":23.01},
{"m":"ST-GCN","s":"spring","b":0,"v":7.96},{"m":"ST-GCN","s":"spring","b":1,"v":19.72},{"m":"ST-GCN","s":"spring","b":2,"v":12.12},{"m":"ST-GCN","s":"spring","b":3,"v":6.27},{"m":"ST-GCN","s":"spring","b":4,"v":19.04},{"m":"ST-GCN","s":"spring","b":5,"v":10.83},{"m":"ST-GCN","s":"spring","b":6,"v":30.90},{"m":"ST-GCN","s":"spring","b":7,"v":21.35},{"m":"ST-GCN","s":"spring","b":8,"v":5.19},{"m":"ST-GCN","s":"spring","b":9,"v":5.17},{"m":"ST-GCN","s":"spring","b":10,"v":6.21},{"m":"ST-GCN","s":"spring","b":11,"v":11.01},{"m":"ST-GCN","s":"spring","b":12,"v":13.56},{"m":"ST-GCN","s":"spring","b":13,"v":18.43},{"m":"ST-GCN","s":"spring","b":14,"v":6.35},{"m":"ST-GCN","s":"spring","b":15,"v":8.58},{"m":"ST-GCN","s":"spring","b":16,"v":37.10},{"m":"ST-GCN","s":"spring","b":17,"v":17.92},{"m":"ST-GCN","s":"spring","b":18,"v":27.16},{"m":"ST-GCN","s":"spring","b":19,"v":24.06},{"m":"ST-GCN","s":"spring","b":20,"v":39.71},{"m":"ST-GCN","s":"spring","b":21,"v":5.74},{"m":"ST-GCN","s":"spring","b":22,"v":12.39},{"m":"ST-GCN","s":"spring","b":23,"v":15.15},
{"m":"ST-GCN","s":"summer","b":0,"v":9.95},{"m":"ST-GCN","s":"summer","b":1,"v":22.67},{"m":"ST-GCN","s":"summer","b":2,"v":8.06},{"m":"ST-GCN","s":"summer","b":3,"v":4.61},{"m":"ST-GCN","s":"summer","b":4,"v":24.72},{"m":"ST-GCN","s":"summer","b":5,"v":7.47},{"m":"ST-GCN","s":"summer","b":6,"v":15.81},{"m":"ST-GCN","s":"summer","b":7,"v":28.33},{"m":"ST-GCN","s":"summer","b":8,"v":7.96},{"m":"ST-GCN","s":"summer","b":9,"v":7.05},{"m":"ST-GCN","s":"summer","b":10,"v":8.45},{"m":"ST-GCN","s":"summer","b":11,"v":12.84},{"m":"ST-GCN","s":"summer","b":12,"v":14.82},{"m":"ST-GCN","s":"summer","b":13,"v":23.10},{"m":"ST-GCN","s":"summer","b":14,"v":5.63},{"m":"ST-GCN","s":"summer","b":15,"v":8.35},{"m":"ST-GCN","s":"summer","b":16,"v":28.25},{"m":"ST-GCN","s":"summer","b":17,"v":10.05},{"m":"ST-GCN","s":"summer","b":18,"v":27.01},{"m":"ST-GCN","s":"summer","b":19,"v":31.44},{"m":"ST-GCN","s":"summer","b":20,"v":13.80},{"m":"ST-GCN","s":"summer","b":21,"v":5.69},{"m":"ST-GCN","s":"summer","b":22,"v":7.80},{"m":"ST-GCN","s":"summer","b":23,"v":9.86},
{"m":"ST-GCN","s":"fall","b":0,"v":7.79},{"m":"ST-GCN","s":"fall","b":1,"v":44.96},{"m":"ST-GCN","s":"fall","b":2,"v":14.11},{"m":"ST-GCN","s":"fall","b":3,"v":7.52},{"m":"ST-GCN","s":"fall","b":4,"v":27.29},{"m":"ST-GCN","s":"fall","b":5,"v":11.75},{"m":"ST-GCN","s":"fall","b":6,"v":31.69},{"m":"ST-GCN","s":"fall","b":7,"v":16.22},{"m":"ST-GCN","s":"fall","b":8,"v":7.24},{"m":"ST-GCN","s":"fall","b":9,"v":7.62},{"m":"ST-GCN","s":"fall","b":10,"v":11.71},{"m":"ST-GCN","s":"fall","b":11,"v":12.99},{"m":"ST-GCN","s":"fall","b":12,"v":14.82},{"m":"ST-GCN","s":"fall","b":13,"v":16.04},{"m":"ST-GCN","s":"fall","b":14,"v":7.56},{"m":"ST-GCN","s":"fall","b":15,"v":8.44},{"m":"ST-GCN","s":"fall","b":16,"v":45.36},{"m":"ST-GCN","s":"fall","b":17,"v":14.14},{"m":"ST-GCN","s":"fall","b":18,"v":27.97},{"m":"ST-GCN","s":"fall","b":19,"v":30.89},{"m":"ST-GCN","s":"fall","b":20,"v":26.94},{"m":"ST-GCN","s":"fall","b":21,"v":8.23},{"m":"ST-GCN","s":"fall","b":22,"v":11.48},{"m":"ST-GCN","s":"fall","b":23,"v":13.54},
{"m":"ST-GCN","s":"winter","b":0,"v":7.94},{"m":"ST-GCN","s":"winter","b":1,"v":26.16},{"m":"ST-GCN","s":"winter","b":2,"v":11.42},{"m":"ST-GCN","s":"winter","b":3,"v":4.75},{"m":"ST-GCN","s":"winter","b":4,"v":18.60},{"m":"ST-GCN","s":"winter","b":5,"v":8.05},{"m":"ST-GCN","s":"winter","b":6,"v":23.49},{"m":"ST-GCN","s":"winter","b":7,"v":13.17},{"m":"ST-GCN","s":"winter","b":8,"v":10.33},{"m":"ST-GCN","s":"winter","b":9,"v":13.62},{"m":"ST-GCN","s":"winter","b":10,"v":5.48},{"m":"ST-GCN","s":"winter","b":11,"v":10.86},{"m":"ST-GCN","s":"winter","b":12,"v":22.81},{"m":"ST-GCN","s":"winter","b":13,"v":12.10},{"m":"ST-GCN","s":"winter","b":14,"v":4.98},{"m":"ST-GCN","s":"winter","b":15,"v":7.85},{"m":"ST-GCN","s":"winter","b":16,"v":30.11},{"m":"ST-GCN","s":"winter","b":17,"v":10.85},{"m":"ST-GCN","s":"winter","b":18,"v":25.73},{"m":"ST-GCN","s":"winter","b":19,"v":16.34},{"m":"ST-GCN","s":"winter","b":20,"v":17.46},{"m":"ST-GCN","s":"winter","b":21,"v":10.84},{"m":"ST-GCN","s":"winter","b":22,"v":9.40},{"m":"ST-GCN","s":"winter","b":23,"v":10.10}
]},
"spacing": {"row": 82},
"bounds": "flush",
"facet": {"row": {"field": "m", "type": "nominal", "sort": ["Last hour","Average","LR","MLP","XGBoost","GRU","ST-GCN"],
  "header": {"title": null, "labels": false}}},
"resolve": {"scale": {"y": "independent"}},
"spec": {
  "width": 2424, "height": 163,
  "encoding": {
    "x": {"field": "b", "type": "ordinal", "scale": {"paddingInner": 0, "paddingOuter": 0},
      "axis": {"orient": "top", "title": "Building ID", "titleFont": "Liberation Sans", "titleFontSize": 40, "titleFontWeight": "bold", "titleColor": "#000000", "titleX": -284, "titleY": -10, "titleAlign": "left", "titleBaseline": "alphabetic", "titleAngle": 0,
        "labelAngle": 0, "labelAlign": "right", "labelBaseline": "alphabetic", "labelOffset": 41, "labelPadding": 10, "ticks": false, "tickSize": 0, "domain": false, "grid": false,
        "labelFont": "Liberation Sans", "labelFontSize": 36, "labelFontWeight": "bold", "labelColor": "#000000"}}
  },
  "layer": [
    {"mark": {"type": "rect"},
     "encoding": {
       "y": {"field": "s", "type": "nominal", "sort": ["spring","summer","fall","winter"], "scale": {"paddingInner": 0, "paddingOuter": 0},
         "axis": {"orient": "left", "title": null, "ticks": false, "tickSize": 0, "domain": false, "grid": false, "labelAlign": "left", "labelBaseline": "middle", "labelPadding": 284, "labelFont": "Liberation Sans", "labelFontSize": 32, "labelFontWeight": "bold", "labelColor": "#000000"}},
       "color": {"field": "v", "type": "quantitative",
        "scale": {"type": "log", "clamp": true, "interpolate": "rgb", "domain": [4, 8, 12, 16, 20.5, 30, 45, 60, 80, 100, 120, 140], "range": ["#70C27C","#92CC7E","#B5D680","#D8E082","#FFEB84","#FEE082","#FDD07F","#FDBF7C","#FBA977","#FA9273","#F97C6F","#F8696B"]},
        "legend": {"title": null, "orient": "none", "legendX": 627, "legendY": 1642, "direction": "horizontal", "gradientLength": 1051, "gradientThickness": 40, "gradientStrokeWidth": 0, "values": [4, 140], "labelFont": "Liberation Serif", "labelFontSize": 32, "labelColor": "#000000", "labelAlign": "center", "labelOffset": 14,
          "encode": {"labels": {"update": {"align": {"value": "center"}}}}}}}},
    {"transform": [{"filter": "datum.b === 0"}],
     "mark": {"type": "rect", "width": 155, "xOffset": -27},
     "encoding": {
       "y": {"field": "s", "type": "nominal", "sort": ["spring","summer","fall","winter"], "scale": {"paddingInner": 0, "paddingOuter": 0}, "axis": null},
       "color": {"field": "v", "type": "quantitative",
        "scale": {"type": "log", "clamp": true, "interpolate": "rgb", "domain": [4, 8, 12, 16, 20.5, 30, 45, 60, 80, 100, 120, 140], "range": ["#70C27C","#92CC7E","#B5D680","#D8E082","#FFEB84","#FEE082","#FDD07F","#FDBF7C","#FBA977","#FA9273","#F97C6F","#F8696B"]},
        "legend": {"title": null, "orient": "none", "legendX": 627, "legendY": 1642, "direction": "horizontal", "gradientLength": 1051, "gradientThickness": 40, "gradientStrokeWidth": 0, "values": [4, 140], "labelFont": "Liberation Serif", "labelFontSize": 32, "labelColor": "#000000", "labelAlign": "center", "labelOffset": 14,
          "encode": {"labels": {"update": {"align": {"value": "center"}}}}}}}},
    {"mark": {"type": "text", "align": "right", "baseline": "middle", "dx": -10, "dy": 2, "font": "Liberation Sans", "fontSize": 21, "color": "#000000"},
     "encoding": {"x": {"field": "b", "type": "ordinal", "bandPosition": 1},
       "y": {"field": "s", "type": "nominal", "sort": ["spring","summer","fall","winter"], "scale": {"paddingInner": 0, "paddingOuter": 0}, "axis": null},
       "text": {"field": "v", "type": "quantitative", "format": ".2f"}}},
    {"mark": {"type": "rect", "opacity": 0},
     "encoding": {"y": {"field": "m", "type": "nominal",
        "axis": {"orient": "right", "title": null, "ticks": false, "tickSize": 0, "domain": false, "grid": false, "labelAlign": "center", "labelBaseline": "middle", "labelPadding": 100, "labelFont": "Liberation Sans", "labelFontSize": 32, "labelFontWeight": "bold", "labelColor": "#000000"}}}}
  ],
  "resolve": {"scale": {"y": "independent"}, "axis": {"y": "independent"}}
},
"config": {"view": {"stroke": null}, "axis": {"grid": false}}
}
